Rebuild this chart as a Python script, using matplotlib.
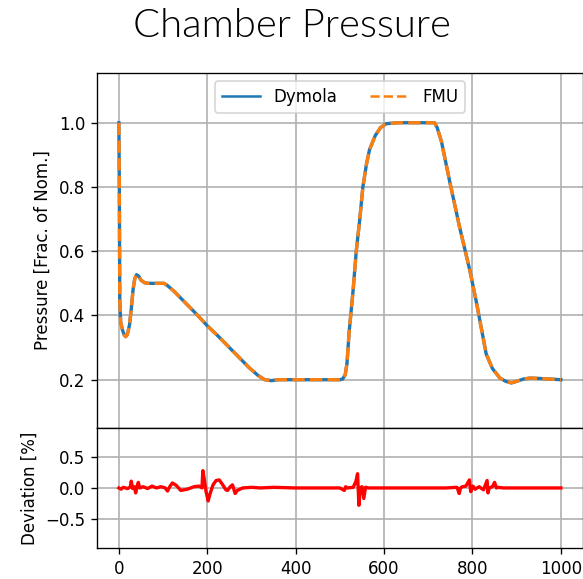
import matplotlib.pyplot as plt

# pressure trace (time in s, fraction of nominal)
t_p = [0, 1, 2, 4, 8, 12, 15, 19, 24, 28,
       32, 36, 40, 45, 50, 58, 66, 80, 95, 102,
       110, 125, 150, 175, 200, 225, 250, 275, 295, 315,
       330, 345, 360, 400, 450, 500, 506, 512, 516, 521,
       530, 537, 545, 552, 560, 567, 580, 592, 605, 630,
       680, 714, 720, 730, 748, 770, 794, 809, 820, 831,
       845, 862, 875, 888, 900, 915, 930, 950, 975, 1000]
dymola = [1.0, 0.8, 0.45, 0.38, 0.355, 0.34, 0.334, 0.34, 0.37, 0.42,
          0.48, 0.515, 0.527, 0.522, 0.51, 0.502, 0.5, 0.5, 0.5, 0.5,
          0.493, 0.475, 0.44, 0.405, 0.368, 0.335, 0.3, 0.265, 0.237, 0.213,
          0.2, 0.197, 0.2, 0.2, 0.2, 0.2, 0.202, 0.215, 0.25, 0.35,
          0.48, 0.6, 0.7, 0.8, 0.87, 0.916, 0.96, 0.985, 0.997, 1.0,
          1.0, 1.0, 0.985, 0.94, 0.82, 0.68, 0.54, 0.44, 0.36, 0.28,
          0.235, 0.205, 0.195, 0.19, 0.195, 0.202, 0.205, 0.204, 0.202, 0.2]
fmu = dymola

# deviation between the two runs, percent
t_d = [0, 5, 10, 20, 26, 28, 31, 35, 38, 41,
       44, 47, 55, 65, 75, 85, 95, 105, 110, 115,
       121, 130, 140, 155, 170, 182, 188, 190, 193, 197,
       202, 206, 213, 220, 227, 235, 242, 246, 252, 257,
       260, 263, 268, 280, 300, 320, 350, 400, 450, 500,
       510, 513, 517, 530, 536, 540, 543, 546, 550, 554,
       558, 565, 600, 650, 700, 740, 765, 770, 773, 777,
       785, 793, 796, 801, 806, 815, 825, 833, 835, 838,
       845, 850, 854, 858, 870, 900, 950, 1000]
deviation = [0.0, -0.02, 0.01, -0.01, 0.02, 0.11, -0.01, 0.02, -0.08, 0.02,
             0.09, 0.0, 0.02, -0.01, 0.03, 0.0, 0.02, 0.0, -0.05, 0.02,
             0.08, 0.04, -0.04, -0.02, 0.02, 0.03, 0.0, 0.28, 0.15, -0.05,
             -0.21, -0.1, 0.05, 0.12, 0.13, 0.05, -0.03, -0.04, 0.02, 0.05,
             -0.02, -0.09, -0.04, 0.0, 0.01, 0.0, 0.01, 0.0, 0.0, 0.0,
             -0.04, 0.02, 0.0, 0.01, 0.1, 0.23, -0.28, 0.0, 0.02, -0.17,
             0.01, 0.0, 0.0, 0.0, 0.0, 0.0, 0.01, -0.09, 0.0, 0.02,
             0.03, 0.13, -0.06, 0.03, -0.02, 0.02, -0.03, 0.12, -0.08, 0.0,
             0.02, 0.09, 0.0, 0.01, 0.0, 0.0, 0.0, 0.0]

fig = plt.figure(figsize=(583 / 120, 579 / 120), dpi=120)
ax1 = fig.add_axes([0.166, 0.261, 0.834, 0.613])
ax2 = fig.add_axes([0.166, 0.0535, 0.834, 0.2075], sharex=ax1)

fig.suptitle("Chamber Pressure", fontsize=24, fontfamily="Lato",
             fontweight=350, y=0.986)

ax1.plot(t_p, dymola, color="C0", lw=2, label="Dymola")
ax1.plot(t_p, fmu, color="C1", lw=2, ls="--", label="FMU")
ax1.set_ylim(0.05, 1.155)
ax1.set_yticks([0.2, 0.4, 0.6, 0.8, 1.0])
ax1.set_ylabel("Pressure [Frac. of Nom.]")
ax1.grid(True, lw=1)
leg = ax1.legend(loc="upper center", ncol=2, handlelength=2.3)
for h in leg.get_lines():
    h.set_linewidth(1.5)
ax1.tick_params(labelbottom=False, bottom=False)

ax2.plot(t_d, deviation, color="red", lw=2)
ax2.set_ylim(-0.97, 0.97)
ax2.set_yticks([-0.5, 0.0, 0.5])
ax2.set_ylabel("Deviation [%]")
ax2.grid(True, lw=1)
ax2.set_xlim(-50, 1050)
ax2.set_xticks([0, 200, 400, 600, 800, 1000])

fig.align_ylabels([ax1, ax2])

plt.savefig("out.png", dpi=120)
